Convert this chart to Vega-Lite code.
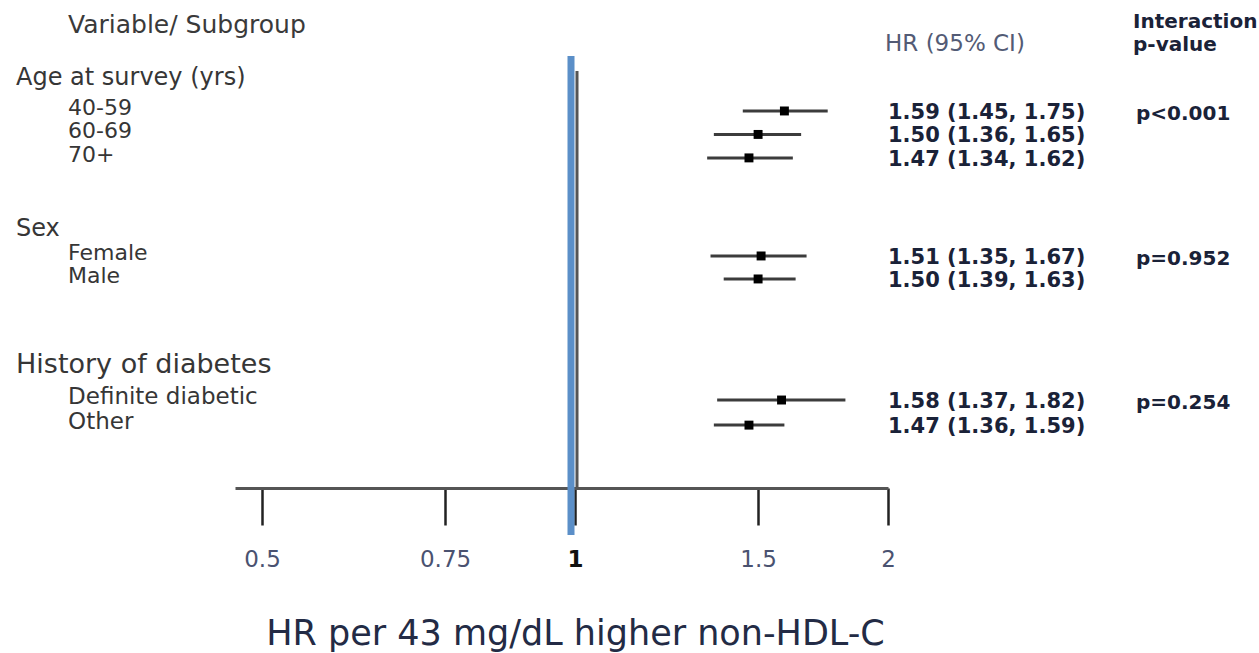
{
  "$schema": "https://vega.github.io/schema/vega-lite/v6.json",
  "width": 653,
  "height": 488,
  "autosize": "none",
  "padding": {"left": 235, "top": 0, "right": 371, "bottom": 165},
  "background": "white",
  "config": {"view": {"stroke": null}, "font": "DejaVu Sans"},
  "datasets": {
    "subgroups": [
      {"group": "Age at survey (yrs)", "label": "40-59", "hr": 1.59, "lo": 1.45, "hi": 1.75, "est": "1.59 (1.45, 1.75)", "p": "p<0.001", "row": 4.73},
      {"group": "Age at survey (yrs)", "label": "60-69", "hr": 1.50, "lo": 1.36, "hi": 1.65, "est": "1.50 (1.36, 1.65)", "row": 5.73},
      {"group": "Age at survey (yrs)", "label": "70+", "hr": 1.47, "lo": 1.34, "hi": 1.62, "est": "1.47 (1.34, 1.62)", "row": 6.73},
      {"group": "Sex", "label": "Female", "hr": 1.51, "lo": 1.35, "hi": 1.67, "est": "1.51 (1.35, 1.67)", "p": "p=0.952", "row": 10.91},
      {"group": "Sex", "label": "Male", "hr": 1.50, "lo": 1.39, "hi": 1.63, "est": "1.50 (1.39, 1.63)", "row": 11.89},
      {"group": "History of diabetes", "label": "Definite diabetic", "hr": 1.58, "lo": 1.37, "hi": 1.82, "est": "1.58 (1.37, 1.82)", "p": "p=0.254", "row": 17.05},
      {"group": "History of diabetes", "label": "Other", "hr": 1.47, "lo": 1.36, "hi": 1.59, "est": "1.47 (1.36, 1.59)", "row": 18.12}
    ],
    "groups": [
      {"group": "Age at survey (yrs)", "row": 3.32},
      {"group": "Sex", "row": 9.76},
      {"group": "History of diabetes", "row": 15.56}
    ],
    "one": [{}]
  },
  "layer": [
    {
      "data": {"name": "subgroups"},
      "mark": {"type": "rule", "color": "#3c3c3c", "strokeWidth": 3},
      "encoding": {
        "x": {
          "field": "lo", "type": "quantitative",
          "scale": {"type": "log", "domain": [0.47098, 2], "nice": false, "zero": false},
          "axis": {
            "values": [0.5, 0.75, 1, 1.5, 2],
            "format": "~g",
            "grid": false,
            "title": "HR per 43 mg/dL higher non-HDL-C",
            "domainColor": "#555555", "domainWidth": 3,
            "tickColor": "#222222", "tickSize": 37, "tickWidth": 2.5,
            "labelFont": "DejaVu Sans", "labelFontSize": 23, "labelPadding": 23,
            "labelFlush": false, "labelOverlap": false,
            "labelColor": {"condition": {"test": "datum.value == 1", "value": "#111111"}, "value": "#4a5270"},
            "labelFontWeight": {"condition": {"test": "datum.value == 1", "value": "bold"}, "value": "normal"},
            "titleFont": "DejaVu Sans", "titleFontSize": 35, "titleFontWeight": "normal",
            "titleColor": "#232b45", "titleX": 340, "titleY": 156,
            "titleBaseline": "alphabetic", "titleAlign": "center"
          }
        },
        "x2": {"field": "hi"},
        "y": {
          "field": "row", "type": "quantitative",
          "scale": {"domain": [0, 20.8], "reverse": true, "nice": false, "zero": false},
          "axis": null
        }
      }
    },
    {
      "data": {"name": "subgroups"},
      "mark": {"type": "square", "size": 80, "color": "#000000", "opacity": 1},
      "encoding": {
        "x": {"field": "hr", "type": "quantitative"},
        "y": {"field": "row", "type": "quantitative", "axis": null}
      }
    },
    {
      "data": {"name": "one"},
      "mark": {"type": "rule", "color": "#555555", "strokeWidth": 3, "xOffset": 2},
      "encoding": {
        "x": {"datum": 1, "type": "quantitative"},
        "y": {"datum": 3.03, "type": "quantitative", "axis": null},
        "y2": {"datum": 20.8}
      }
    },
    {
      "data": {"name": "one"},
      "mark": {"type": "rule", "color": "#5b8fc8", "strokeWidth": 7, "xOffset": -4},
      "encoding": {
        "x": {"datum": 1, "type": "quantitative"},
        "y": {"datum": 2.39, "type": "quantitative", "axis": null},
        "y2": {"datum": 22.8}
      }
    },
    {
      "data": {"name": "groups"},
      "mark": {"type": "text", "align": "left", "baseline": "middle", "color": "#363636", "font": "DejaVu Sans"},
      "encoding": {
        "x": {"datum": 0.2900, "type": "quantitative"},
        "y": {"field": "row", "type": "quantitative", "axis": null},
        "text": {"field": "group"},
        "size": {"condition": {"test": "datum.group == 'History of diabetes'", "value": 27}, "value": 24}
      }
    },
    {
      "data": {"name": "subgroups"},
      "mark": {"type": "text", "align": "left", "baseline": "middle", "dy": -3, "color": "#363636", "font": "DejaVu Sans", "limit": 230, "ellipsis": ""},
      "encoding": {
        "x": {"datum": 0.3254, "type": "quantitative"},
        "y": {"field": "row", "type": "quantitative", "axis": null},
        "text": {"field": "label"},
        "size": {"condition": {"test": "datum.group == 'History of diabetes'", "value": 23}, "value": 22}
      }
    },
    {
      "data": {"name": "subgroups"},
      "mark": {"type": "text", "align": "left", "baseline": "middle", "dy": 2, "color": "#1a2238", "font": "DejaVu Sans", "fontWeight": "bold", "fontSize": 21},
      "encoding": {
        "x": {"datum": 2, "type": "quantitative"},
        "y": {"field": "row", "type": "quantitative", "axis": null},
        "text": {"field": "est"}
      }
    },
    {
      "data": {"name": "subgroups"},
      "transform": [{"filter": "isValid(datum.p)"}],
      "mark": {"type": "text", "align": "left", "baseline": "middle", "dy": 3, "color": "#1a2238", "font": "DejaVu Sans", "fontWeight": "bold", "fontSize": 20},
      "encoding": {
        "x": {"datum": 3.464, "type": "quantitative"},
        "y": {"field": "row", "type": "quantitative", "axis": null},
        "text": {"field": "p"}
      }
    },
    {
      "data": {"name": "one"},
      "mark": {"type": "text", "align": "left", "baseline": "middle", "color": "#3a3a3a", "font": "DejaVu Sans", "fontSize": 25, "text": "Variable/ Subgroup"},
      "encoding": {
        "x": {"datum": 0.3254, "type": "quantitative"},
        "y": {"datum": 1.07, "type": "quantitative", "axis": null}
      }
    },
    {
      "data": {"name": "one"},
      "mark": {"type": "text", "align": "left", "baseline": "middle", "color": "#535b75", "font": "DejaVu Sans", "fontSize": 23, "text": "HR (95% CI)"},
      "encoding": {
        "x": {"datum": 1.987, "type": "quantitative"},
        "y": {"datum": 1.88, "type": "quantitative", "axis": null}
      }
    },
    {
      "data": {"name": "one"},
      "mark": {"type": "text", "align": "left", "baseline": "middle", "color": "#1a2238", "font": "DejaVu Sans", "fontWeight": "bold", "fontSize": 20, "text": "Interaction"},
      "encoding": {
        "x": {"datum": 3.441, "type": "quantitative"},
        "y": {"datum": 0.94, "type": "quantitative", "axis": null}
      }
    },
    {
      "data": {"name": "one"},
      "mark": {"type": "text", "align": "left", "baseline": "middle", "color": "#1a2238", "font": "DejaVu Sans", "fontWeight": "bold", "fontSize": 20, "text": "p-value"},
      "encoding": {
        "x": {"datum": 3.441, "type": "quantitative"},
        "y": {"datum": 1.92, "type": "quantitative", "axis": null}
      }
    }
  ]
}
